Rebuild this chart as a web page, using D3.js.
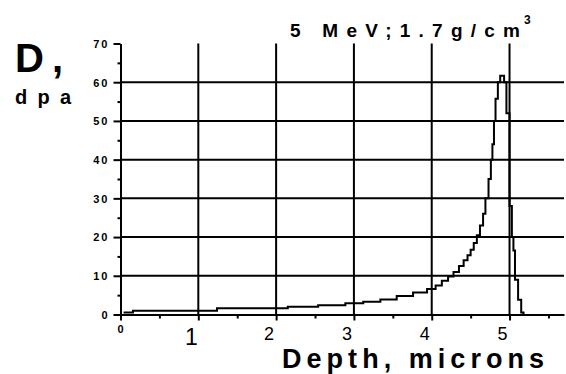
<!DOCTYPE html>
<html>
<head>
<meta charset="utf-8">
<script src="https://cdn.jsdelivr.net/npm/d3@7"></script>
<style>
  body { margin: 0; background: #fff; }
  text { font-family: "Liberation Sans", Arial, sans-serif; fill: #000; }
</style>
</head>
<body>
<script>
// depth (microns) where each step starts, and damage (dpa) from there on
var depth = [0.04, 0.16, 1.24, 2.15, 2.54, 2.89, 3.12, 3.34, 3.55, 3.76, 3.94, 4.05, 4.13, 4.21, 4.28, 4.35,
             4.41, 4.46, 4.50, 4.54, 4.58, 4.62, 4.66, 4.69, 4.73, 4.76, 4.78, 4.80, 4.82, 4.85, 4.88,
             4.93, 4.96, 5.00, 5.03, 5.05, 5.07, 5.11, 5.15, 5.18];
var dpa = [0.5, 1.0, 1.6, 2.0, 2.4, 2.9, 3.3, 3.9, 4.8, 5.7, 6.6, 7.5, 8.7, 9.8, 11, 12.5,
           14, 15.3, 16.7, 18.5, 20.5, 23, 26, 30, 35, 40, 44, 50, 55.7, 60, 61.7,
           60, 52, 28, 20, 16.5, 9, 3.8, 0.5, 0];

var xTicks = [0, 1, 2, 3, 4, 5];
var xMinor = [0.5, 1.5, 2.5, 3.5, 4.5, 5.5];
var yTicks = [0, 10, 20, 30, 40, 50, 60, 70];
var yMinor = [5, 15, 25, 35, 45, 55, 65];

var width = 566, height = 374;

var svg = d3.select("body").append("svg")
    .attr("width", width)
    .attr("height", height);

var x = d3.scaleLinear().domain([0, 5.7]).range([120.5, 564]);
var y = d3.scaleLinear().domain([0, 70]).range([314.5, 43.5]);

// grid
svg.append("g")
    .selectAll("line")
    .data(yTicks.filter(d => d > 0 && d < 70))
    .join("line")
    .attr("x1", x(0)).attr("x2", x(5.7))
    .attr("y1", d => y(d)).attr("y2", d => y(d))
    .attr("stroke", "#000").attr("stroke-width", 2);

svg.append("g")
    .selectAll("line")
    .data(xTicks.filter(d => d > 0))
    .join("line")
    .attr("x1", d => x(d)).attr("x2", d => x(d))
    .attr("y1", y(0)).attr("y2", y(70))
    .attr("stroke", "#000").attr("stroke-width", 2);

// y axis
var yAxis = svg.append("g")
    .attr("transform", "translate(" + x(0) + ",0)")
    .call(d3.axisLeft(y).tickValues(yTicks).tickSize(7).tickSizeOuter(0).tickPadding(4));
svg.append("g")
    .attr("transform", "translate(" + x(0) + ",0)")
    .call(d3.axisLeft(y).tickValues(yMinor).tickSize(3).tickFormat(""))
    .select(".domain").remove();

yAxis.selectAll("text")
    .style("font-size", "11px")
    .style("font-weight", "bold")
    .attr("letter-spacing", "2px")
    .attr("dy", "0.35em");

// x axis
var xAxis = svg.append("g")
    .attr("transform", "translate(0," + y(0) + ")")
    .call(d3.axisBottom(x).tickValues(xTicks).tickSize(6).tickSizeOuter(0).tickFormat(""));
svg.append("g")
    .attr("transform", "translate(0," + y(0) + ")")
    .call(d3.axisBottom(x).tickValues(xMinor).tickSize(4).tickFormat(""))
    .select(".domain").remove();

svg.selectAll(".domain, .tick line")
    .attr("stroke", "#000").attr("stroke-width", 2);

// x tick labels
svg.append("g")
    .selectAll("text")
    .data(xTicks)
    .join("text")
    .attr("x", d => d === 0 ? x(d) : x(d) - 7)
    .attr("y", d => d === 0 ? 333 : (d === 1 ? 345 : 340))
    .attr("text-anchor", "middle")
    .style("font-size", d => d === 0 ? "11px" : (d === 1 ? "23px" : "18px"))
    .style("font-weight", d => d === 0 ? "bold" : "normal")
    .text(d => d);

// curve
var line = d3.line()
    .x(d => x(d[0]))
    .y(d => y(d[1]))
    .curve(d3.curveStepAfter);

svg.append("path")
    .datum(depth.map((d, i) => [d, dpa[i]]))
    .attr("d", line)
    .attr("fill", "none")
    .attr("stroke", "#000")
    .attr("stroke-width", 2)
    .attr("stroke-linejoin", "miter");

// titles
svg.append("text")
    .attr("x", 290).attr("y", 37)
    .style("font-size", "19px").style("font-weight", "bold")
    .attr("textLength", 230).attr("lengthAdjust", "spacing")
    .text("5 MeV;1.7g/cm");
svg.append("text")
    .attr("x", 524).attr("y", 24)
    .style("font-size", "12px").style("font-weight", "bold")
    .text("3");

svg.append("text")
    .attr("x", 15).attr("y", 72)
    .style("font-size", "40px").style("font-weight", "bold")
    .attr("textLength", 48).attr("lengthAdjust", "spacing")
    .text("D,");

svg.append("text")
    .attr("x", 15).attr("y", 104)
    .style("font-size", "20px").style("font-weight", "bold")
    .attr("textLength", 56).attr("lengthAdjust", "spacing")
    .text("dpa");

svg.append("text")
    .attr("x", 282).attr("y", 368)
    .style("font-size", "27px").style("font-weight", "bold")
    .attr("textLength", 262).attr("lengthAdjust", "spacing")
    .text("Depth, microns");
</script>
</body>
</html>
